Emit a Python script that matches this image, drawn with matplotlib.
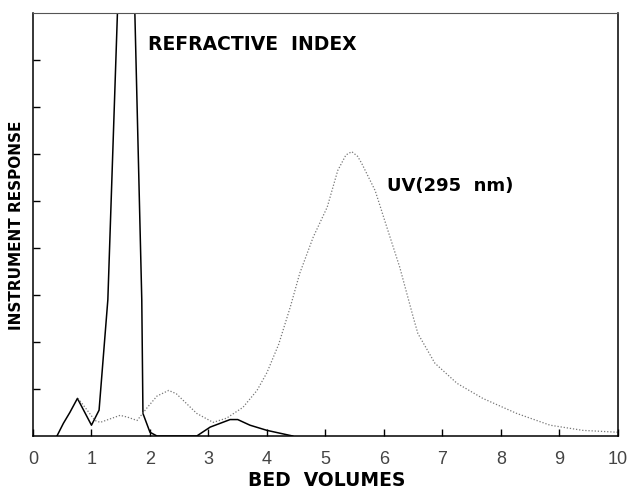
import matplotlib.pyplot as plt

# refractive index trace (solid); peak goes off the top of the chart
ri_x = [0.41, 0.52, 0.63, 0.76, 1.0, 1.13, 1.28, 1.46, 1.6, 1.73, 1.86, 1.88, 2.0, 2.12,
        2.8, 3.03, 3.37, 3.5, 3.71, 4.0, 4.44]
ri_y = [0.0, 0.27, 0.5, 0.8, 0.23, 0.55, 2.9, 9.6, 10.5, 9.6, 2.9, 0.48, 0.08, 0.0,
        0.0, 0.19, 0.35, 0.35, 0.23, 0.12, 0.0]

# UV (295 nm) trace (dotted)
uv_x = [0.77, 0.89, 1.06, 1.15, 1.49, 1.62, 1.78, 1.95, 2.12, 2.32, 2.45, 2.6, 2.8,
        3.08, 3.31, 3.59, 3.83, 4.0, 4.2, 4.4, 4.56, 4.79, 5.03, 5.21, 5.35, 5.45,
        5.55, 5.62, 5.85, 6.05, 6.27, 6.5, 6.58, 6.87, 7.25, 7.69, 8.27, 8.84, 9.4, 10.0]
uv_y = [0.8, 0.61, 0.33, 0.29, 0.44, 0.4, 0.33, 0.6, 0.85, 0.97, 0.9, 0.72, 0.48,
        0.29, 0.38, 0.61, 0.97, 1.35, 1.95, 2.75, 3.46, 4.23, 4.87, 5.65, 5.98, 6.05,
        5.95, 5.8, 5.22, 4.44, 3.59, 2.53, 2.18, 1.55, 1.12, 0.8, 0.48, 0.23, 0.12, 0.08]

x_ticks = list(range(0, 11))
y_ticks = list(range(1, 9))

fig = plt.figure(figsize=(6.28, 4.93), dpi=100)
ax = fig.add_axes([0.0525, 0.1156, 0.9315, 0.858])

ax.plot(ri_x, ri_y, color='black', lw=1.1)
ax.plot(uv_x, uv_y, color='#777777', lw=0.9, linestyle=(0, (1, 1.5)))

ax.set_xlim(0, 10)
ax.set_ylim(0, 9)
ax.set_xticks(x_ticks)
ax.set_xticklabels([str(t) for t in x_ticks], fontsize=13, color='#444444',
                   family='Liberation Sans')
ax.set_yticks(y_ticks)
ax.set_yticklabels([])
ax.tick_params(direction='in', length=5, width=1, color='black')
ax.tick_params(axis='x', pad=11)

for s in ax.spines.values():
    s.set_linewidth(1.1)
ax.spines['top'].set_color('#555555')
ax.spines['top'].set_linewidth(0.8)

bold = dict(fontweight='bold', family='DejaVu Sans')
fig.text(327 / 628, 1 - 481 / 493, 'BED  VOLUMES', fontsize=13.5, ha='center',
         va='center', **bold)
fig.text(17 / 628, 1 - 225 / 493, 'INSTRUMENT RESPONSE', fontsize=11,
         rotation=90, ha='center', va='center', **bold)

ax.text(1.97, 8.33, 'REFRACTIVE  INDEX', fontsize=13.5, va='center', ha='left', **bold)
ax.text(6.05, 5.31, 'UV(295  nm)', fontsize=13, va='center', ha='left', **bold)

fig.savefig('out.png', dpi=100)
